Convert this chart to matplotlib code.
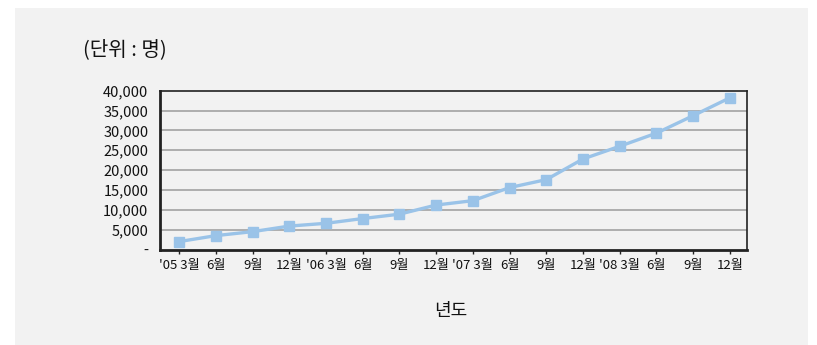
import matplotlib
matplotlib.use("Agg")
import matplotlib.pyplot as plt
from matplotlib.patches import Rectangle
from matplotlib.ticker import FixedLocator

categories = ["'05 3월", "6월", "9월", "12월",
              "'06 3월", "6월", "9월", "12월",
              "'07 3월", "6월", "9월", "12월",
              "'08 3월", "6월", "9월", "12월"]
values = [2000, 3500, 4500, 5900, 6600, 7800, 8900, 11200,
          12300, 15600, 17600, 22800, 26000, 29300, 33700, 38200]
y_ticks = [0, 5000, 10000, 15000, 20000, 25000, 30000, 35000, 40000]
y_labels = ["-", "5,000", "10,000", "15,000", "20,000", "25,000",
            "30,000", "35,000", "40,000"]
title_text = "(단위 : 명)"
xlabel_text = "년도"

num_font = ["Liberation Sans Narrow", "Noto Sans CJK KR", "DejaVu Sans"]
kr_font = ["Noto Sans CJK KR", "DejaVu Sans"]

W, H = 817, 345
fig = plt.figure(figsize=(W / 100, H / 100), dpi=100)
fig.patch.set_facecolor("white")
fig.patches.append(Rectangle((15 / W, 0), (808 - 15) / W, (H - 8) / H,
                             transform=fig.transFigure, facecolor="#f2f2f2",
                             edgecolor="none", zorder=-10))

ax = fig.add_axes([159.5 / W, (H - 249.5) / H, (747 - 159.5) / W, (249.5 - 90.7) / H])
ax.set_zorder(5)
ax.set_facecolor("#f2f2f2")
x = list(range(len(values)))
ax.plot(x, values, color="#9ac3e8", lw=2.4, marker="s", markersize=7.5,
        markeredgecolor="#9ac3e8", markerfacecolor="#9ac3e8", zorder=3,
        clip_on=False)

ax.set_xlim(-0.54, len(values) - 1 + 0.47)
ax.set_ylim(0, 40000)
ax.yaxis.set_major_locator(FixedLocator(y_ticks))
ax.set_yticklabels(y_labels, fontfamily=num_font, fontsize=10.5, color="#111111")
ax.set_xticks(x)
ax.set_xticklabels(categories, fontfamily=num_font, fontsize=9.5, color="#111111")
ax.tick_params(axis="y", length=0, pad=8)
ax.tick_params(axis="x", length=3, width=1, direction="out", pad=4, color="#222222")

for yv in y_ticks[1:-1]:
    ax.axhline(yv, color="#a8a8a8", lw=1.3, zorder=1)

for side in ["top", "right"]:
    ax.spines[side].set_color("#222222")
    ax.spines[side].set_linewidth(1.2)
for side in ["left", "bottom"]:
    ax.spines[side].set_color("#222222")
    ax.spines[side].set_linewidth(2.0)

fig.text(83 / W, 1 - 50 / H, title_text, fontfamily=kr_font, fontsize=14.5,
         ha="left", va="center", color="#111111", zorder=6)
fig.text(451 / W, 1 - 311 / H, xlabel_text, fontfamily=kr_font, fontsize=13,
         ha="center", va="center", color="#111111", zorder=6)

fig.savefig("out.png", dpi=100, facecolor=fig.get_facecolor())
